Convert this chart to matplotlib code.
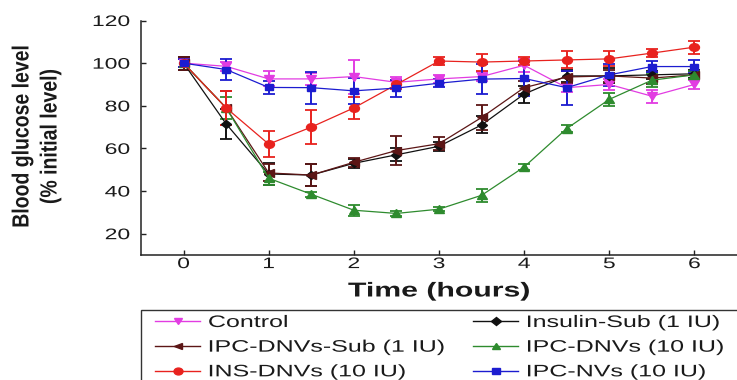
import matplotlib
matplotlib.use("Agg")
import matplotlib.pyplot as plt
from matplotlib.patheffects import AbstractPathEffect
from matplotlib.transforms import Affine2D
from matplotlib.markers import MarkerStyle
from matplotlib.patches import Rectangle
from matplotlib.lines import Line2D

# ---------------- data ----------------
time_h = [0, 0.5, 1, 1.5, 2, 2.5, 3, 3.5, 4, 4.5, 5, 5.5, 6]

control = [100, 98.5, 92.6, 92.6, 93.7, 91, 92.6, 93.7, 99, 88.5, 90, 84.5, 90]
control_err = [3, 2, 3.5, 3, 8, 2.5, 2, 2, 3, 2, 2.5, 3, 2]

insulin_sub = [100, 71.5, 48, 47.5, 53, 57, 61, 71, 85.5, 94, 94, 94.5, 95]
insulin_sub_err = [3, 7, 5, 5, 2, 3, 2, 4, 4, 3, 3.5, 2, 2]

ipc_dnvs_sub = [100, 79, 48.5, 47.5, 53.5, 59, 62.2, 74.5, 88.5, 93.5, 94, 93, 94.5]
ipc_dnvs_sub_err = [3, 8, 4, 5, 2, 7, 3, 6, 3, 3, 3, 3, 2]

ipc_dnvs = [100, 79, 46, 38.5, 31, 29.5, 31.5, 38, 51.3, 69.3, 83, 92, 94.5]
ipc_dnvs_err = [2, 5, 3, 1.2, 2.5, 1, 1, 3, 1.5, 1.5, 3, 3, 2]

ins_dnvs = [100, 79, 62, 70, 79, 90, 101, 100.5, 101, 101.5, 102, 104.7, 107.5]
ins_dnvs_err = [2, 8, 6, 8, 5, 2, 2, 4, 2, 4, 3.5, 2, 3]

ipc_nvs = [100, 97, 88.6, 88.5, 87, 88.3, 90.6, 92.5, 92.8, 88.5, 94.5, 98.4, 98.4]
ipc_nvs_err = [2, 5, 3, 7.5, 6, 4, 2, 7, 8, 8, 5, 2.5, 3]

series_labels = ["Control", "Insulin-Sub (1 IU)", "IPC-DNVs-Sub (1 IU)",
                 "IPC-DNVs (10 IU)", "INS-DNVs (10 IU)", "IPC-NVs (10 IU)"]
series_values = [control, insulin_sub, ipc_dnvs_sub, ipc_dnvs, ins_dnvs, ipc_nvs]
series_errors = [control_err, insulin_sub_err, ipc_dnvs_sub_err,
                 ipc_dnvs_err, ins_dnvs_err, ipc_nvs_err]
series_colors = ["#e23ce2", "#111111", "#5c1616", "#2e8b2e", "#e8221e", "#1c1cd0"]
series_markers = ["v", "D", "<", "^", "o", "s"]
series_msize = [5.5, 4.2, 5.5, 5.5, 5.5, 4.8]

x_ticks = [0, 1, 2, 3, 4, 5, 6]
y_ticks = [20, 40, 60, 80, 100, 120]
legend_order = ["Control", "IPC-DNVs-Sub (1 IU)", "INS-DNVs (10 IU)",
                "Insulin-Sub (1 IU)", "IPC-DNVs (10 IU)", "IPC-NVs (10 IU)"]


# ------------- horizontal stretch effect for text (image is widened) -------------
class HStretch(AbstractPathEffect):
    def __init__(self, sx=1.5, anchor=0.5):
        super().__init__()
        self.sx = sx
        self.anchor = anchor

    def draw_path(self, renderer, gc, tpath, affine, rgbFace=None):
        ext = tpath.get_extents(affine)
        xa = ext.x0 + self.anchor * (ext.x1 - ext.x0)
        extra = Affine2D().translate(-xa, 0).scale(self.sx, 1).translate(xa, 0)
        renderer.draw_path(gc, tpath, affine + extra, rgbFace)


W, H = 737, 380
fig = plt.figure(figsize=(W / 100, H / 100), dpi=100, facecolor="white")
ax = fig.add_axes([141 / W, 1 - 255 / H, (W - 141) / W, (255 - 20.5) / H])

txt_color = "#1a1a1a"
SX = 1.5

proxies = {}
for lab, vals, errs, col, mk, ms in zip(series_labels, series_values, series_errors,
                                        series_colors, series_markers, series_msize):
    m = MarkerStyle(mk, transform=Affine2D().scale(1.3, 1.0))
    ax.errorbar(time_h, vals, yerr=errs, color=col, ecolor=col, lw=0.9,
                elinewidth=1.4, capsize=4.2, capthick=1.3,
                marker=m, markersize=ms, markerfacecolor=col, markeredgecolor=col,
                zorder=3)
    m2 = MarkerStyle(mk, transform=Affine2D().scale(1.3, 1.0))
    proxies[lab] = Line2D([], [], color=col, lw=1.0, marker=m2, markersize=ms * 0.9,
                          markerfacecolor=col, markeredgecolor=col)

ax.set_xlim(-0.5, 6.5)
ax.set_ylim(10, 120)
ax.set_xticks(x_ticks)
ax.set_yticks(y_ticks)
for s in ["top", "right"]:
    ax.spines[s].set_visible(False)
for s in ["left", "bottom"]:
    ax.spines[s].set_linewidth(1.1)
    ax.spines[s].set_color("#222222")
ax.tick_params(direction="in", length=3.5, width=1.0, colors="#222222")
ax.tick_params(axis="y", pad=8)
ax.tick_params(axis="x", pad=1.5)

for t in ax.get_yticklabels():
    t.set_fontfamily("Liberation Sans")
    t.set_fontsize(11)
    t.set_color(txt_color)
    t.set_path_effects([HStretch(SX, anchor=1.0)])
for t in ax.get_xticklabels():
    t.set_fontfamily("Liberation Sans")
    t.set_fontsize(11)
    t.set_color(txt_color)
    t.set_path_effects([HStretch(SX, anchor=0.5)])

xl = ax.set_xlabel("Time (hours)", fontfamily="Liberation Sans", fontweight="bold",
                   fontsize=14.5, color=txt_color)
xl.set_va("center")
ax.xaxis.set_label_coords(0.5, (H - 291 - (H - 255)) / (255 - 20.5))
xl.set_path_effects([HStretch(SX, anchor=0.5)])

yl = ax.set_ylabel("Blood glucose level\n(% initial level)", fontfamily="Liberation Sans",
                   fontweight="bold", fontsize=14, color=txt_color)
yl.set_linespacing(1.85)
yl.set_va("center")
yl.set_ha("center")
ax.yaxis.set_label_coords((37 - 141) / (W - 141), ((H - 136.5) - (H - 255)) / (255 - 20.5))
yl.set_path_effects([HStretch(1.2, anchor=0.5)])

# legend frame (extends past the bottom/right edge of the picture)
fig.patches.append(Rectangle((141 / W, -0.1), 1.0, 1 - 310 / H + 0.1,
                             transform=fig.transFigure, fill=False,
                             edgecolor="#333333", lw=1.0))

leg = fig.legend([proxies[l] for l in legend_order], legend_order, ncol=2,
                 loc="upper left", bbox_to_anchor=(155 / W, 1 - 315 / H),
                 frameon=False, borderpad=0, borderaxespad=0,
                 prop={"family": "Liberation Sans", "size": 12},
                 handlelength=2.7, handletextpad=0.5, columnspacing=6.4,
                 labelspacing=0.58)
for t in leg.get_texts():
    t.set_color(txt_color)
    t.set_path_effects([HStretch(SX, anchor=0.0)])

fig.savefig("out.png", dpi=100, facecolor="white")
